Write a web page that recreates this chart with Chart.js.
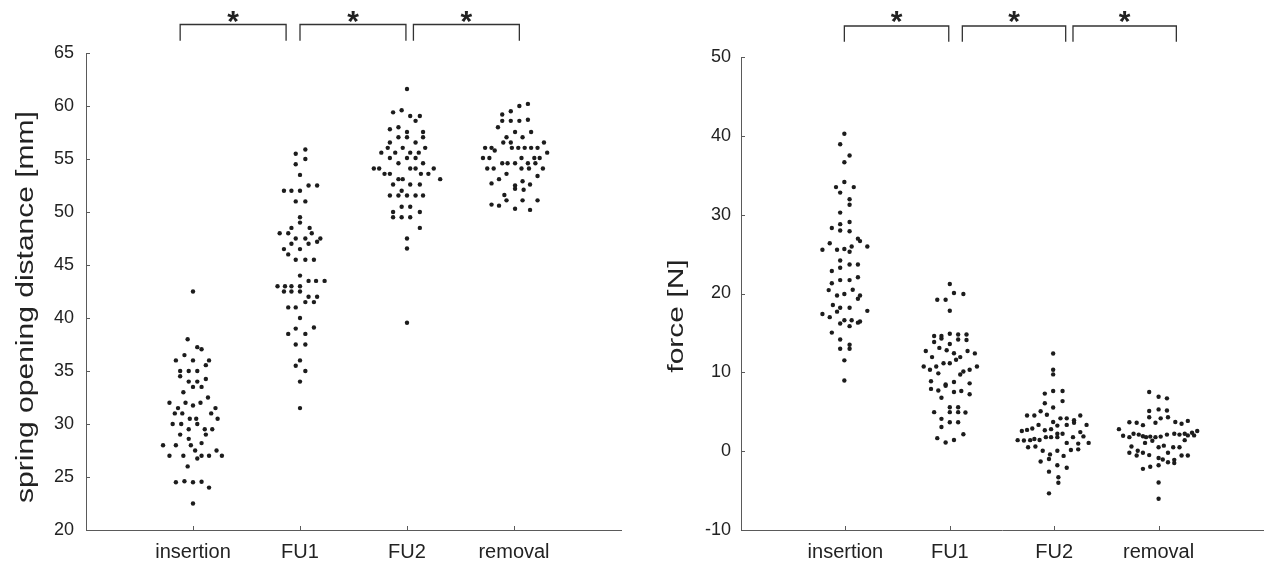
<!DOCTYPE html>
<html>
<head>
<meta charset="utf-8">
<script src="https://cdn.jsdelivr.net/npm/chart.js@4.4.1/dist/chart.umd.min.js"></script>
<style>
  body { margin: 0; background: #fff; width: 1273px; height: 565px; overflow: hidden; position: relative; }
  canvas { position: absolute; top: 0; }
</style>
</head>
<body>
<canvas id="distChart" width="640" height="565" style="left:0"></canvas>
<canvas id="forceChart" width="633" height="565" style="left:640px"></canvas>
<script>
// groups on the x axis (placed at 1..4)
const categories = ['insertion', 'FU1', 'FU2', 'removal'];

// spring opening distance [mm], per group: values + beeswarm offset (in category units)
const distInsertion = [42.5, 38, 37.25, 37.05, 36.5, 36, 36, 36, 35.55, 35, 35, 35, 34.5, 34, 34, 34.25, 33.5, 33.5, 33, 32.5,
  32, 32, 32, 31.75, 31.5, 31.5, 31, 31, 31, 30.5, 30.5, 30.5, 30, 30, 30, 29.5, 29.5, 29.5, 29, 29,
  28.6, 28, 28, 28, 28.2, 27.5, 27.5, 27, 27, 27, 27, 27, 26.75, 26, 24.5, 24.6, 24.5, 24.55, 24, 22.5];
const distInsertionOff = [0, -0.05, 0.04, 0.08, -0.08, -0.16, 0, 0.15, 0.12, -0.12, -0.04, 0.04, -0.12, -0.04, 0.04, 0.12, 0, 0.08, -0.09, 0.14,
  -0.22, -0.07, 0.07, 0, -0.14, 0.21, -0.17, -0.10, 0.17, -0.03, 0.03, 0.23, -0.19, -0.11, 0.04, -0.04, 0.11, 0.18, -0.12, 0.12,
  -0.04, -0.28, -0.16, -0.02, 0.08, 0.02, 0.22, -0.22, -0.09, 0.08, 0.15, 0.27, 0.04, -0.05, -0.16, -0.08, 0, 0.08, 0.15, 0];

const distFU1 = [55.9, 55.5, 55, 54.5, 53.5, 52.5, 52.5, 52, 52, 52, 51, 51, 49.5, 49, 48.5, 48.5, 48, 48, 48, 47.5,
  47.5, 47.5, 47.2, 47, 47, 46.5, 46.5, 46, 45.5, 45.5, 45.5, 44, 43.5, 43.5, 43.5, 43, 43, 43, 43, 42.5,
  42.5, 42.5, 42, 42, 41.5, 41.5, 41, 41, 40, 39.1, 39, 38.5, 38.5, 37.5, 37.5, 36, 35.5, 35, 34, 31.5];
const distFU1Off = [0.05, -0.04, 0.05, -0.04, 0, 0.08, 0.16, -0.15, -0.08, 0, -0.04, 0.05, 0, 0, -0.08, 0.09, -0.19, -0.11, 0.11, -0.04,
  0.05, 0.19, 0.16, -0.08, 0.08, -0.15, 0, -0.11, -0.04, 0.05, 0.13, 0, 0.08, 0.15, 0.23, -0.21, -0.14, -0.08, 0, -0.15,
  -0.08, 0, 0.08, 0.16, 0.05, 0.13, -0.11, -0.04, 0, 0.13, -0.04, -0.11, 0.05, -0.04, 0.05, 0, -0.04, 0.05, 0, 0];

const distFU2 = [61.6, 59.4, 59.6, 59.05, 59.05, 58.6, 57.8, 58, 57.55, 57.55, 57.05, 57.05, 57.05, 56.55, 56.55, 56.05, 56.05, 56.05, 55.6, 55.6,
  55.6, 55.6, 55.1, 55.1, 55.1, 54.6, 54.6, 54.1, 54.1, 54.1, 54.1, 54.1, 53.6, 53.6, 53.6, 53.6, 53.1, 53.1, 53.1, 52.6,
  52.6, 52.6, 52, 51.55, 51.55, 51.55, 51.55, 51.55, 50.5, 50.5, 50, 50, 49.5, 49.5, 49.5, 48.5, 47.5, 46.55, 39.55];
const distFU2Off = [0, -0.13, -0.05, 0.03, 0.12, 0.08, -0.16, -0.08, 0, 0.15, -0.08, 0, 0.15, -0.16, 0.08, -0.18, -0.04, 0.17, -0.24, -0.11,
  0.03, 0.11, -0.16, 0, 0.08, -0.08, 0.15, -0.31, -0.26, 0.03, 0.08, 0.25, -0.21, -0.16, 0.13, 0.20, -0.08, -0.04, 0.31, -0.13,
  0.03, 0.12, -0.05, -0.16, -0.08, 0, 0.08, 0.15, -0.05, 0.03, -0.13, 0.12, -0.13, -0.05, 0.03, 0.12, 0, 0, 0];

const distRemoval = [60.2, 60, 59.5, 59.2, 58.6, 58.6, 58.6, 58.7, 58, 57.55, 57.55, 57.05, 57.05, 56.55, 56.55, 56.55, 56.05, 56.05, 56.05, 56.05,
  56.05, 56.05, 56.05, 55.8, 55.6, 55.1, 55.1, 55.1, 55.1, 55.1, 54.6, 54.6, 54.6, 54.6, 54.6, 54.1, 54.1, 54.1, 54.1, 54.1,
  53.6, 53.4, 53.1, 52.9, 52.7, 52.6, 52.5, 52.2, 52.1, 51.6, 51.1, 51.1, 51.1, 50.7, 50.6, 50.3, 50.2];
const distRemovalOff = [0.13, 0.05, -0.03, -0.11, -0.11, -0.03, 0.05, 0.13, -0.15, 0.01, 0.16, -0.07, 0.08, -0.10, -0.03, 0.28, -0.27, -0.21, -0.02, 0.04,
  0.10, 0.16, 0.22, -0.18, 0.31, -0.29, -0.23, 0.07, 0.19, 0.24, -0.11, -0.06, 0.01, 0.13, 0.20, -0.25, -0.19, 0.07, 0.14, 0.27,
  -0.07, 0.22, -0.14, 0.08, -0.21, 0.15, 0.01, 0.01, 0.09, -0.09, -0.07, 0.08, 0.22, -0.21, -0.14, 0.01, 0.15];

// force [N]
const forceInsertion = [40.27, 38.94, 37.5, 36.65, 34.14, 33.5, 33.5, 32.8, 31.95, 31.26, 30.26, 28.8, 29.07, 28.3, 28, 27.9, 26.96, 26.65, 26.37, 25.96,
  25.96, 25.55, 25.55, 25.64, 25.3, 24.18, 23.26, 23.67, 23.67, 22.85, 22.07, 21.3, 21.7, 21.7, 20.43, 20.48, 19.74, 19.93, 19.74, 19.33,
  18.55, 18.2, 18.2, 17.7, 17.8, 17.4, 17, 16.2, 16.6, 16.6, 16.45, 16.3, 15.86, 15.04, 14.17, 13.5, 13, 13, 11.52, 8.96];
const forceInsertionOff = [-0.01, -0.05, 0.04, -0.01, -0.01, -0.09, 0.08, -0.05, 0.04, 0.04, -0.05, -0.05, 0.04, -0.13, -0.05, 0.04, 0.12, 0.14, -0.15, 0.06,
  0.21, -0.22, -0.08, -0.01, 0.04, -0.05, -0.05, 0.04, 0.12, -0.13, 0.12, -0.13, -0.05, 0.04, -0.16, 0.07, -0.08, -0.01, 0.14, 0.12,
  -0.12, -0.05, 0.04, -0.08, 0.21, -0.22, -0.15, -0.05, -0.01, 0.06, 0.14, 0.12, 0.04, -0.13, -0.05, 0.04, 0.04, -0.05, -0.01, -0.01];

const forceFU1 = [21.2, 19.2, 19.2, 20.06, 19.93, 17.82, 14.9, 14.8, 14.8, 14.6, 14.6, 14.3, 14.17, 14.1, 13.85, 13.6, 13.1, 12.8, 12.7, 12.7,
  12.43, 12.4, 11.93, 11.93, 11.6, 11.15, 11.15, 10.74, 10.74, 10.74, 10.33, 10.33, 10.1, 9.87, 9.73, 8.86, 8.77, 8.46, 8.3, 8.6,
  7.9, 7.7, 7.5, 7.63, 7.22, 6.77, 5.58, 5.58, 4.95, 4.95, 4.95, 4.9, 4.1, 3.66, 3.66, 3.06, 2.15, 1.65, 1.42, 1.1];
const forceFU1Off = [0, -0.12, -0.04, 0.04, 0.13, 0, 0, 0.08, 0.16, -0.15, -0.08, -0.08, 0.08, 0.16, -0.15, 0, -0.10, -0.03, -0.23, 0.17,
  0.04, 0.24, -0.17, 0.10, 0.06, -0.06, 0, -0.25, -0.13, 0.26, -0.19, 0.19, 0.13, -0.11, 0.10, -0.18, 0.04, -0.04, -0.04, 0.19,
  -0.18, -0.11, 0.04, 0.11, 0.19, -0.08, 0, 0.08, -0.15, 0, 0.08, 0.15, -0.08, 0, 0.08, -0.08, 0.13, -0.12, 0.04, -0.04];

const forceFU2 = [12.39, 10.33, 9.74, 7.3, 7.63, 7.63, 6.35, 6.08, 5.53, 4.52, 4.52, 5.07, 4.52, 4.62, 4.16, 4.16, 3.93, 3.6, 3.7, 3.33,
  3.33, 3.33, 3.24, 2.87, 2.7, 2.65, 2.79, 2.56, 2.2, 2.2, 2.42, 1.87, 1.78, 1.78, 1.78, 1.78, 1.55, 1.42, 1.4, 1.35,
  1.4, 1.05, 0.96, 1.05, 0.5, 0.6, 0.23, 0.14, 0.05, 0.05, -0.41, -0.6, -1, -1.32, -1.78, -2.1, -2.6, -3.3, -4, -5.35];
const forceFU2Off = [-0.01, -0.01, -0.01, -0.09, -0.01, 0.08, 0.08, -0.09, -0.01, -0.26, -0.19, -0.13, 0.25, -0.07, 0.06, 0.12, 0.19, 0.19, -0.01, -0.15,
  0.12, 0.31, 0.03, -0.21, -0.26, -0.09, -0.03, -0.31, 0.03, 0.08, 0.25, 0.28, -0.08, -0.03, 0.03, 0.18, -0.19, -0.14, -0.35, -0.29,
  -0.23, 0.12, 0.23, 0.33, -0.25, -0.18, 0.23, 0.16, -0.11, 0.03, -0.04, 0.09, -0.05, -0.13, 0.03, 0.12, -0.05, 0.04, 0.04, -0.05];

const forceRemoval = [7.5, 6.9, 6.7, 5.1, 5.3, 5.15, 4.3, 4.3, 4.16, 3.66, 3.6, 3.3, 3.6, 3.7, 3.47, 3.84, 2.79, 2.56, 2.33, 2,
  1.96, 1.78, 2.2, 2.1, 1.9, 1.78, 1.85, 1.78, 1.85, 2.1, 2.2, 2.1, 2.2, 2, 1.4, 1.05, 1.33, 0.7, 0.5, 0.5,
  0.5, 0.6, -0.2, 0.05, -0.2, -0.55, -0.5, -0.2, -0.55, -0.55, -0.87, -1.05, -1.4, -1.1, -1.5, -1.78, -1.97, -2.24, -3.98, -6.03];
const forceRemovalOff = [-0.09, 0, 0.08, -0.09, 0, 0.08, -0.09, 0.09, 0.02, -0.28, -0.21, -0.15, -0.03, 0.16, 0.22, 0.28, -0.38, 0.37, 0.32, 0.34,
  -0.34, -0.28, -0.24, -0.19, -0.15, -0.12, -0.08, -0.03, 0.02, 0.08, 0.15, 0.20, 0.25, 0.28, 0.25, -0.13, -0.06, 0.05, 0, 0.14,
  0.20, -0.26, -0.28, -0.20, -0.15, -0.21, -0.09, 0.09, 0.22, 0.28, 0, 0.04, 0.09, 0.15, 0.15, 0, -0.08, -0.15, 0, 0];

// axis ticks
const distTicks = [20, 25, 30, 35, 40, 45, 50, 55, 60, 65];
const forceTicks = [-10, 0, 10, 20, 30, 40, 50];

// significance brackets: [from, to] in category units
const distBrackets = [[0.88, 1.87], [2.0, 2.99], [3.06, 4.05]];
const forceBrackets = [[0.99, 1.99], [2.12, 3.11], [3.18, 4.17]];

const FONT = "'Liberation Sans', Arial, Helvetica, sans-serif";
const DOT = '#1c1c1c';
const AXIS = '#5a5a5a';

function toPoints(values, offsets, groupIdx) {
  return values.map((v, i) => ({ x: groupIdx + 1 + offsets[i], y: v }));
}

// matlab-like inward ticks, y title, significance brackets
const decorPlugin = {
  id: 'decor',
  afterDraw(chart, args, opts) {
    const ctx = chart.ctx, xs = chart.scales.x, ys = chart.scales.y, a = chart.chartArea;
    ctx.save();
    ctx.strokeStyle = AXIS;
    ctx.lineWidth = 1;
    ctx.beginPath();
    ys.ticks.forEach(t => {
      const y = Math.round(ys.getPixelForValue(t.value)) + 0.5;
      ctx.moveTo(a.left, y); ctx.lineTo(a.left + 4, y);
    });
    xs.ticks.forEach(t => {
      if (t.value < 1 || t.value > categories.length) return;
      const x = Math.round(xs.getPixelForValue(t.value)) + 0.5;
      ctx.moveTo(x, a.bottom); ctx.lineTo(x, a.bottom - 4);
    });
    ctx.stroke();

    // y axis title (rotated, slightly condensed like the source figure)
    ctx.save();
    ctx.translate(opts.titleX, opts.titleY);
    ctx.rotate(-Math.PI / 2);
    ctx.scale(1, opts.titleSquash);
    ctx.fillStyle = '#222';
    ctx.font = '30px ' + FONT;
    ctx.textAlign = 'center';
    ctx.textBaseline = 'alphabetic';
    ctx.fillText(opts.title, 0, 0);
    ctx.restore();

    ctx.strokeStyle = '#333';
    ctx.lineWidth = 1.3;
    ctx.fillStyle = '#222';
    ctx.font = 'bold 30px ' + FONT;
    ctx.textAlign = 'center';
    ctx.textBaseline = 'alphabetic';
    opts.spans.forEach(([f, t]) => {
      const x1 = xs.getPixelForValue(f), x2 = xs.getPixelForValue(t);
      ctx.beginPath();
      ctx.moveTo(x1, opts.dropY); ctx.lineTo(x1, opts.lineY); ctx.lineTo(x2, opts.lineY); ctx.lineTo(x2, opts.dropY);
      ctx.stroke();
      const m = ctx.measureText('*');
      const base = opts.starY - (m.actualBoundingBoxDescent - m.actualBoundingBoxAscent) / 2;
      ctx.fillText('*', (x1 + x2) / 2, base);
    });
    ctx.restore();
  }
};

function makeChart(id, groups, yTicks, cfg) {
  const datasets = groups.map(([vals, offs], g) => ({
    data: toPoints(vals, offs, g),
    backgroundColor: DOT,
    borderWidth: 0,
    pointRadius: 2.2,
    pointHoverRadius: 2.2
  }));
  return new Chart(document.getElementById(id).getContext('2d'), {
    type: 'scatter',
    data: { datasets },
    options: {
      responsive: false,
      animation: false,
      events: [],
      layout: { padding: { top: cfg.top, right: cfg.right, left: 0, bottom: 0 } },
      plugins: {
        legend: { display: false },
        tooltip: { enabled: false },
        decor: cfg.decor
      },
      scales: {
        x: {
          type: 'linear', min: 0, max: categories.length + 1,
          grid: { drawOnChartArea: false, drawTicks: false },
          border: { display: true, color: AXIS, width: 1 },
          ticks: {
            stepSize: 1, padding: 10, autoSkip: false, maxRotation: 0,
            color: '#222', font: { family: FONT, size: 20 },
            callback: v => categories[v - 1] || ''
          },
          afterFit: s => { s.height = 35; }
        },
        y: {
          min: yTicks[0], max: yTicks[yTicks.length - 1],
          grid: { drawOnChartArea: false, drawTicks: false },
          border: { display: true, color: AXIS, width: 1 },
          afterBuildTicks: s => { s.ticks = yTicks.map(v => ({ value: v })); },
          ticks: { padding: cfg.yPad, color: '#222', font: { family: FONT, size: 18 } },
          afterFit: s => { s.width = cfg.yWidth; }
        }
      }
    },
    plugins: [decorPlugin]
  });
}

makeChart('distChart',
  [[distInsertion, distInsertionOff], [distFU1, distFU1Off], [distFU2, distFU2Off], [distRemoval, distRemovalOff]],
  distTicks,
  { top: 53, right: 19, yWidth: 86, yPad: 12,
    decor: { title: 'spring opening distance [mm]', titleX: 33.3, titleY: 307, titleSquash: 0.82,
             spans: distBrackets, lineY: 24.5, dropY: 40.7, starY: 16.7 } });

makeChart('forceChart',
  [[forceInsertion, forceInsertionOff], [forceFU1, forceFU1Off], [forceFU2, forceFU2Off], [forceRemoval, forceRemovalOff]],
  forceTicks,
  { top: 57, right: 2, yWidth: 101, yPad: 10,
    decor: { title: 'force [N]', titleX: 42.5, titleY: 316, titleSquash: 0.72,
             spans: forceBrackets, lineY: 26, dropY: 41.7, starY: 17 } });
</script>
</body>
</html>
